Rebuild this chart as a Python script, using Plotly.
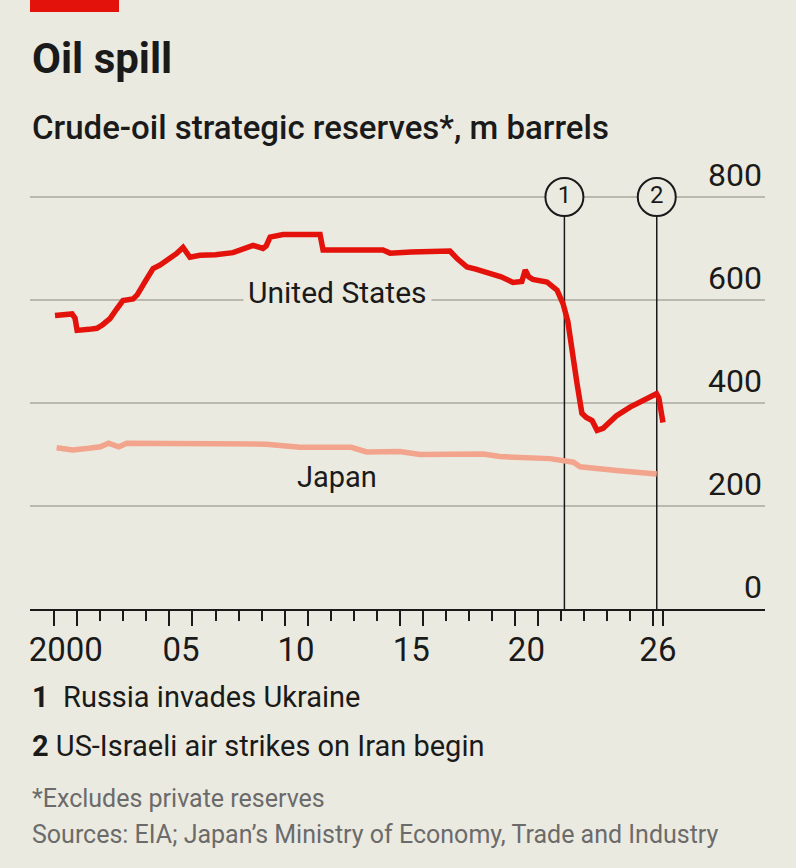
import plotly.graph_objects as go

# data (decimal years, m barrels)
us_years = [2000.03, 2000.5, 2000.77, 2000.9, 2000.99, 2001.5, 2001.85, 2002.1, 2002.42, 2002.7,
            2002.98, 2003.42, 2003.6, 2004.0, 2004.29, 2004.6, 2004.9, 2005.3, 2005.59, 2005.75,
            2005.89, 2006.33, 2007.0, 2007.76, 2008.2, 2008.63, 2009.06, 2009.2, 2009.37, 2009.93,
            2010.5, 2011.54, 2011.67, 2012.5, 2013.5, 2014.27, 2014.58, 2015.5, 2016.5, 2017.18,
            2017.5, 2017.92, 2018.3, 2018.92, 2019.4, 2019.92, 2020.3, 2020.45, 2020.6, 2020.78,
            2021.39, 2021.83, 2022.09, 2022.3, 2022.5, 2022.7, 2022.91, 2023.1, 2023.35, 2023.57,
            2023.83, 2024.4, 2025.0, 2025.72, 2026.15, 2026.25, 2026.43]
us_values = [570, 571, 573, 565, 541, 543, 545, 552, 564, 582,
             599, 602, 610, 640, 661, 668, 677, 690, 702, 690,
             683, 687, 688, 692, 700, 706, 700, 705, 722, 727,
             727, 727, 697, 696, 697, 697, 691, 693, 695, 695,
             680, 664, 660, 652, 645, 634, 636, 658, 645, 640,
             635, 619, 593, 558, 490, 437, 380, 372, 366, 347,
             351, 375, 392, 408, 418, 410, 362]

japan_years = [2000.1, 2000.8, 2001.5, 2002.0, 2002.35, 2002.8, 2003.15, 2005.0, 2006.6, 2009.2,
               2010.67, 2012.0, 2012.9, 2013.56, 2015.0, 2015.88, 2017.5, 2018.63, 2019.35, 2021.52,
               2022.54, 2022.83, 2024.42, 2026.16]
japan_values = [313, 309, 312, 315, 322, 315, 322, 322, 322, 320,
                314, 315, 314, 305, 306, 300, 301, 301, 296, 292,
                285, 276, 269, 262]

event_years = [2022.15, 2026.16]
event_labels = ["1", "2"]
event_notes = ["Russia invades Ukraine", "US-Israeli air strikes on Iran begin"]

year_ticks_long = [2000, 2001, 2005, 2006, 2010, 2011, 2015, 2016, 2020, 2021, 2026, 2026.43]
year_ticks_short = [y for y in range(2002, 2026) if y not in year_ticks_long]
year_label_pos = [2000.5, 2005.5, 2010.5, 2015.5, 2020.5, 2026.21]
year_labels = ["2000", "05", "10", "15", "20", "26"]

y_ticks = [0, 200, 400, 600, 800]

BG = "#ebeae0"
RED = "#e3120b"
JAPAN = "#f2a48c"
INK = "#1a1a1a"
GREY = "#6b6b6b"
FONT = "Roboto"

# plot area in pixels: x 30..765, y 140..609 (800 sits at 197)
W, H = 796, 868
L, R, T, B = 30, 31, 140, 259
Y_TOP = 800 * (H - T - B) / (609 - 197)


def py(pixel_y):
    # page pixel row -> paper y
    return (H - B - pixel_y) / (H - T - B)


fig = go.Figure()

fig.add_trace(go.Scatter(x=japan_years, y=japan_values, mode="lines",
                         line=dict(color=JAPAN, width=5.5), hoverinfo="skip"))
fig.add_trace(go.Scatter(x=us_years, y=us_values, mode="lines",
                         line=dict(color=RED, width=5.5), hoverinfo="skip"))

# event markers (circles with numbers) on top gridline
fig.add_trace(go.Scatter(x=event_years, y=[800] * len(event_years), mode="markers+text",
                         text=event_labels, textposition="middle center",
                         textfont=dict(family=FONT, size=24, color=INK),
                         marker=dict(size=38, color=BG, line=dict(color=INK, width=2)),
                         cliponaxis=False, hoverinfo="skip"))

# dummy trace so the label axis renders
fig.add_trace(go.Scatter(x=year_label_pos, y=[0] * len(year_label_pos), xaxis="x2",
                         mode="markers", marker=dict(opacity=0), hoverinfo="skip"))

for yr in event_years:
    fig.add_shape(type="line", x0=yr, x1=yr, y0=0, y1=800, xref="x", yref="y",
                  line=dict(color=INK, width=1.5), layer="between")

# red tag top left
fig.add_shape(type="rect", xref="paper", yref="paper", x0=0, x1=(119 - L) / (W - L - R),
              y0=py(12), y1=py(0), fillcolor=RED, line=dict(width=0))

fig.add_annotation(x=2012.28, y=615, text="United States", showarrow=False,
                   font=dict(family=FONT, size=30, color=INK), bgcolor=BG, borderpad=4)
fig.add_annotation(x=2012.28, y=256, text="Japan", showarrow=False,
                   font=dict(family=FONT, size=29, color=INK))

texts = [
    ("<b>Oil spill</b>", 58, 42, INK, 400),
    ("Crude-oil strategic reserves*, m barrels", 127, 33, INK, 500),
    ("<b>1</b>  " + event_notes[0], 697, 29, INK, 400),
    ("<b>2</b> " + event_notes[1], 746, 29, INK, 400),
    ("*Excludes private reserves", 798, 25, GREY, 400),
    ("Sources: EIA; Japan’s Ministry of Economy, Trade and Industry", 834, 25, GREY, 400),
]
for txt, ypix, size, col, wt in texts:
    fig.add_annotation(text=txt, xref="paper", yref="paper", x=0, y=py(ypix),
                       xanchor="left", yanchor="middle", showarrow=False,
                       font=dict(family=FONT, size=size, color=col, weight=wt))

fig.update_layout(
    width=W, height=H,
    margin=dict(l=L, r=R, t=T, b=B, pad=0),
    paper_bgcolor=BG, plot_bgcolor=BG,
    showlegend=False,
    font=dict(family=FONT, color=INK),
    xaxis=dict(range=[1998.945, 2030.86], showgrid=False, zeroline=False,
               showline=True, linecolor=INK, linewidth=2,
               tickmode="array", tickvals=year_ticks_long, showticklabels=False,
               ticks="outside", ticklen=15, tickwidth=2, tickcolor=INK,
               minor=dict(tickmode="array", tickvals=year_ticks_short, ticks="outside",
                          ticklen=10, tickwidth=2, tickcolor=INK, showgrid=False)),
    xaxis2=dict(overlaying="x", matches="x", anchor="y", side="bottom",
                showgrid=False, zeroline=False, showline=False, ticks="",
                tickmode="array", tickvals=year_label_pos, ticktext=year_labels,
                tickfont=dict(family=FONT, size=33, color=INK), ticklabelstandoff=18),
    yaxis=dict(range=[0, Y_TOP], side="right", tickmode="array", tickvals=y_ticks,
               ticklabelposition="inside top", ticks="", showline=False, zeroline=False,
               showgrid=True, gridcolor="#b9b9b0", gridwidth=1.5,
               tickfont=dict(family=FONT, size=32, color=INK)),
)

fig.write_html("out.html", config={"displayModeBar": False},
               post_script="document.body.style.margin='0';")
